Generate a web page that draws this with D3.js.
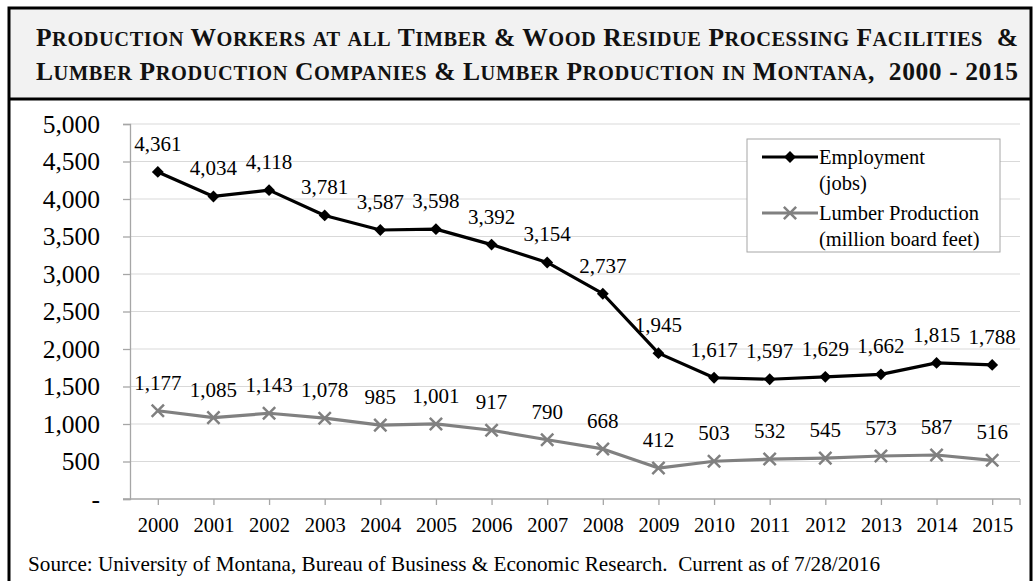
<!DOCTYPE html>
<html lang="en">
<head>
  <meta charset="UTF-8">
  <title>Montana Timber Employment and Lumber Production</title>
  <script src="https://d3js.org/d3.v7.min.js"></script>
  <style>
    body {
      margin: 0;
      background: #fff;
      font-family: "Liberation Serif", "Times New Roman", serif;
    }
    svg {
      display: block;
    }
  </style>
</head>
<body>
  <svg id="chart" width="1034" height="581"></svg>

  <script>
const years = ["2000", "2001", "2002", "2003", "2004", "2005", "2006", "2007",
  "2008", "2009", "2010", "2011", "2012", "2013", "2014", "2015"];
const employment = [4361, 4034, 4118, 3781, 3587, 3598, 3392, 3154,
  2737, 1945, 1617, 1597, 1629, 1662, 1815, 1788];
const lumber = [1177, 1085, 1143, 1078, 985, 1001, 917, 790,
  668, 412, 503, 532, 545, 573, 587, 516];
const yTicks = [0, 500, 1000, 1500, 2000, 2500, 3000, 3500, 4000, 4500, 5000];
const titleLines = [
  "Production Workers at all Timber & Wood Residue Processing Facilities  &",
  "Lumber Production Companies & Lumber Production in Montana,  2000 - 2015"
];
const sourceText = "Source: University of Montana, Bureau of Business & Economic Research.  Current as of 7/28/2016";

const svg = d3.select("#chart");
const width = +svg.attr("width");
const height = +svg.attr("height");

const plotLeft = 130, plotRight = 1020, plotTop = 124, plotBottom = 499;
const fmt = d3.format(",");

// frame + title band
svg.append("rect")
  .attr("x", 9).attr("y", 8)
  .attr("width", 1022).attr("height", 91)
  .attr("fill", "#f2f2f2");
svg.append("rect")
  .attr("x", 9).attr("y", 8)
  .attr("width", 1022).attr("height", height + 10)
  .attr("fill", "none")
  .attr("stroke", "#000")
  .attr("stroke-width", 3);
svg.append("line")
  .attr("x1", 9).attr("x2", 1031)
  .attr("y1", 99).attr("y2", 99)
  .attr("stroke", "#000")
  .attr("stroke-width", 3);

// title in small caps: lowercase letters become smaller capitals
const titleSize = 25.5;
titleLines.forEach((str, i) => {
  const t = svg.append("text")
    .attr("x", 36)
    .attr("y", 46 + i * 34)
    .attr("font-size", titleSize + "px")
    .attr("font-weight", "bold")
    .attr("fill", "#111")
    .attr("textLength", 982)
    .attr("lengthAdjust", "spacing")
    .style("white-space", "pre");
  const runs = [];
  for (const ch of str) {
    const small = ch !== ch.toUpperCase();
    const last = runs[runs.length - 1];
    if (last && last.small === small) last.text += ch;
    else runs.push({ small, text: ch });
  }
  runs.forEach(r => {
    t.append("tspan")
      .attr("font-size", (r.small ? titleSize * 0.8 : titleSize) + "px")
      .text(r.small ? r.text.toUpperCase() : r.text);
  });
});

const x = d3.scalePoint()
  .domain(years)
  .range([plotLeft, plotRight])
  .padding(0.5);

const y = d3.scaleLinear()
  .domain([0, 5000])
  .range([plotBottom, plotTop]);

// gridlines
svg.append("g")
  .selectAll("line")
  .data(yTicks.slice(1))
  .enter().append("line")
  .attr("x1", plotLeft).attr("x2", plotRight)
  .attr("y1", d => y(d)).attr("y2", d => y(d))
  .attr("stroke", "#d9d9d9")
  .attr("stroke-width", 1.2);

// y axis
const yAxis = svg.append("g")
  .attr("transform", `translate(${plotLeft},0)`)
  .call(d3.axisLeft(y).tickValues(yTicks).tickSize(7).tickPadding(23)
    .tickFormat(d => d === 0 ? "-" : fmt(d)));
yAxis.select(".domain").attr("stroke", "#a6a6a6").attr("stroke-width", 1.3);
yAxis.selectAll(".tick line").attr("stroke", "#a6a6a6").attr("stroke-width", 1.3);
yAxis.selectAll(".tick text")
  .attr("font-family", "Liberation Serif")
  .attr("font-size", "25.5px")
  .attr("fill", "#000");

// x axis
const xAxis = svg.append("g")
  .attr("transform", `translate(0,${plotBottom})`)
  .call(d3.axisBottom(x).tickSize(6).tickPadding(12).tickSizeOuter(0));
xAxis.select(".domain").attr("stroke", "#a6a6a6").attr("stroke-width", 1.3)
  .attr("d", `M${plotLeft - 7},0H${plotRight}`);
xAxis.selectAll(".tick line").attr("stroke", "#a6a6a6").attr("stroke-width", 1.3);
xAxis.selectAll(".tick text")
  .attr("font-family", "Liberation Serif")
  .attr("font-size", "20.5px")
  .attr("fill", "#000");
xAxis.append("line")
  .attr("x1", plotRight).attr("x2", plotRight)
  .attr("y1", 0).attr("y2", 6)
  .attr("stroke", "#a6a6a6").attr("stroke-width", 1.3);

// series
const line = d3.line()
  .x((d, i) => x(years[i]))
  .y(d => y(d));

const diamond = d3.symbol().type(d3.symbolDiamond2).size(90);
const cross = d3.symbol().type(d3.symbolX).size(100);

function drawSeries(values, color, markerPath, markerStyle) {
  const g = svg.append("g");
  g.append("path")
    .datum(values)
    .attr("d", line)
    .attr("fill", "none")
    .attr("stroke", color)
    .attr("stroke-width", 3.2)
    .attr("stroke-linejoin", "round");
  g.selectAll("path.marker")
    .data(values)
    .enter().append("path")
    .attr("class", "marker")
    .attr("transform", (d, i) => `translate(${x(years[i])},${y(d)})`)
    .attr("d", markerPath)
    .call(markerStyle);
  g.selectAll("text")
    .data(values)
    .enter().append("text")
    .attr("x", (d, i) => x(years[i]))
    .attr("y", d => y(d) - 21)
    .attr("text-anchor", "middle")
    .attr("font-size", "21px")
    .attr("fill", "#000")
    .text(d => fmt(d));
}

drawSeries(employment, "#000", diamond(), s => s.attr("fill", "#000"));
drawSeries(lumber, "#808080", cross(), s => s
  .attr("fill", "#808080")
  .attr("stroke", "#808080")
  .attr("stroke-width", 2.5));

// legend
const legend = svg.append("g");
legend.append("rect")
  .attr("x", 747).attr("y", 139)
  .attr("width", 253).attr("height", 113)
  .attr("fill", "#fff")
  .attr("stroke", "#a6a6a6")
  .attr("stroke-width", 1);

const legendItems = [
  { lines: ["Employment", "(jobs)"], color: "#000", marker: diamond(), cy: 157 },
  { lines: ["Lumber Production", "(million board feet)"], color: "#808080", marker: cross(), cy: 213 }
];
legendItems.forEach(item => {
  legend.append("line")
    .attr("x1", 762).attr("x2", 818)
    .attr("y1", item.cy).attr("y2", item.cy)
    .attr("stroke", item.color)
    .attr("stroke-width", 3.2);
  legend.append("path")
    .attr("transform", `translate(790,${item.cy})`)
    .attr("d", item.marker)
    .attr("fill", item.color)
    .attr("stroke", item.color === "#000" ? "none" : item.color)
    .attr("stroke-width", 2.5);
  item.lines.forEach((t, i) => {
    legend.append("text")
      .attr("x", 819)
      .attr("y", item.cy + 7 + i * 26)
      .attr("font-size", "20.5px")
      .attr("fill", "#000")
      .text(t);
  });
});

// source note
svg.append("text")
  .attr("x", 28)
  .attr("y", 571)
  .attr("font-size", "21.2px")
  .attr("fill", "#000")
  .style("white-space", "pre")
  .text(sourceText);
  </script>
</body>
</html>
